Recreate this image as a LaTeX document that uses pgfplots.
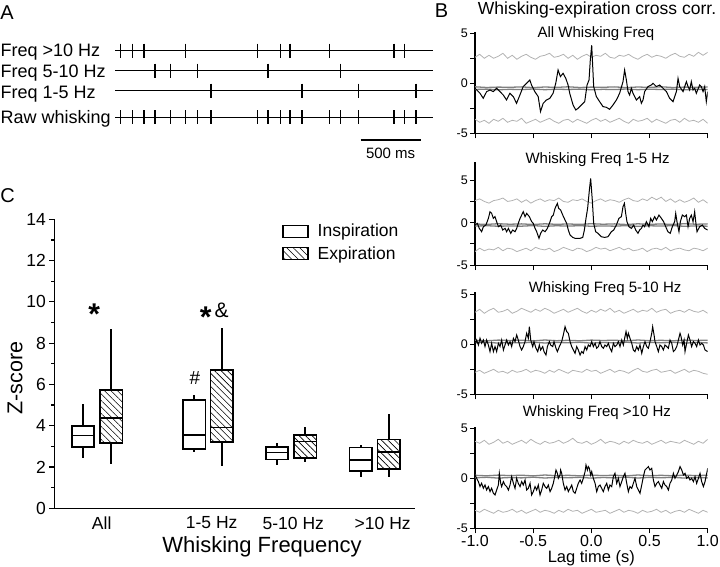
\documentclass[border=0pt]{standalone}
\usepackage{fontspec}
\setmainfont{Liberation Sans}
\usepackage{pgfplots}
\usepackage{pgfplotstable}
\pgfplotsset{compat=1.18}
\usetikzlibrary{patterns.meta}
\newcommand{\fs}[2]{\fontsize{#1}{#2}\selectfont}

\pgfplotstableread{
x u1 l1 u2 l2 u3 l3 u4 l4
-1.00 2.6 -3.6 2.6 -3.4 3.2 -2.8 3.7 -3.2
-0.96 2.9 -3.9 2.8 -3.0 3.5 -2.6 3.5 -3.4
-0.92 2.5 -3.7 2.5 -3.3 3.1 -2.9 3.8 -3.1
-0.88 2.8 -4.0 2.3 -3.1 3.4 -2.7 3.4 -3.3
-0.84 2.5 -3.6 2.6 -3.2 3.6 -2.5 3.6 -3.5
-0.80 2.7 -3.8 2.7 -2.9 3.2 -2.8 3.9 -3.2
-0.76 3.0 -3.5 2.9 -3.3 3.3 -2.7 3.5 -3.4
-0.72 2.5 -3.9 2.5 -3.0 3.5 -2.9 3.7 -3.3
-0.68 2.8 -3.7 2.6 -3.1 3.1 -2.6 3.4 -3.1
-0.64 2.4 -3.8 2.8 -3.4 3.3 -2.8 3.6 -3.4
-0.60 2.7 -3.5 2.4 -3.2 3.6 -2.7 3.8 -3.2
-0.56 2.9 -4.0 2.7 -3.0 3.4 -2.5 3.5 -3.5
-0.52 2.6 -3.8 2.3 -3.3 3.2 -2.8 3.9 -3.3
-0.48 2.4 -3.6 2.6 -2.9 3.5 -2.6 3.6 -3.1
-0.44 2.7 -3.9 2.8 -3.1 3.3 -2.7 3.4 -3.4
-0.40 2.8 -3.7 2.5 -3.2 3.6 -2.9 3.7 -3.2
-0.36 3.0 -3.5 2.7 -3.0 3.4 -2.6 3.5 -3.3
-0.32 2.6 -3.8 2.6 -3.4 3.1 -2.8 3.6 -3.5
-0.28 2.7 -4.0 2.9 -3.2 3.3 -2.5 3.8 -3.2
-0.24 2.9 -3.7 2.5 -2.9 3.5 -2.7 3.5 -3.4
-0.20 2.5 -3.6 2.4 -3.1 3.2 -2.9 3.7 -3.1
-0.16 2.8 -3.9 2.7 -3.3 3.4 -2.6 4.0 -3.3
-0.12 2.4 -3.6 2.6 -3.0 3.6 -2.7 3.6 -3.2
-0.08 2.7 -3.8 2.8 -3.1 3.3 -2.8 3.5 -3.5
-0.04 2.9 -4.0 2.5 -3.4 3.1 -2.5 3.7 -3.3
0.00 2.6 -3.7 2.3 -3.2 3.4 -2.7 3.4 -3.1
0.04 2.8 -3.5 2.6 -2.9 3.2 -2.6 3.6 -3.4
0.08 2.7 -3.8 2.8 -3.1 3.5 -2.9 3.9 -3.3
0.12 3.0 -3.6 2.5 -3.0 3.3 -2.7 3.5 -3.2
0.16 2.6 -3.9 2.7 -3.3 3.6 -2.5 3.7 -3.5
0.20 2.5 -3.7 2.6 -3.1 3.2 -2.8 3.6 -3.3
0.24 2.8 -3.5 2.4 -2.9 3.4 -2.6 3.4 -3.1
0.28 2.7 -3.8 2.7 -3.2 3.1 -2.7 3.7 -3.4
0.32 2.9 -4.0 2.9 -3.0 3.3 -2.9 3.5 -3.2
0.36 2.6 -3.6 2.6 -3.3 3.5 -2.6 3.8 -3.3
0.40 2.4 -3.8 2.5 -3.2 3.2 -2.4 3.6 -3.5
0.44 2.7 -3.7 2.8 -3.0 3.4 -2.7 3.5 -3.2
0.48 2.9 -3.5 2.6 -3.4 3.3 -2.8 3.7 -3.4
0.52 2.6 -3.9 3.0 -3.1 3.6 -2.6 3.4 -3.3
0.56 2.8 -3.6 2.7 -3.0 3.2 -2.5 3.6 -3.1
0.60 2.7 -3.8 3.0 -3.2 3.4 -2.8 3.8 -3.4
0.64 2.5 -4.0 2.5 -2.9 3.5 -2.7 3.5 -3.2
0.68 2.8 -3.7 2.8 -3.3 3.1 -2.6 3.7 -3.5
0.72 3.0 -3.6 2.4 -3.1 3.3 -2.9 3.6 -3.3
0.76 2.7 -3.9 2.7 -3.0 3.4 -2.7 3.5 -3.2
0.80 2.6 -3.5 2.4 -3.2 3.2 -2.5 3.8 -3.4
0.84 2.9 -3.8 2.6 -3.3 3.5 -2.8 3.6 -3.1
0.88 2.7 -3.7 2.9 -3.0 3.3 -2.6 3.4 -3.3
0.92 3.1 -3.9 2.4 -3.1 3.2 -2.7 3.7 -3.5
0.96 2.8 -3.6 2.7 -3.3 3.4 -2.9 3.5 -3.2
1.00 3.1 -4.0 2.3 -3.0 3.1 -3.0 3.9 -3.4
}\bands

\pgfplotstableread{
x a1 b1 a2 b2 a3 b3 a4 b4
-1.0 -0.35 -0.62 -0.15 -0.40 0.40 0.15 0.30 0.05
-0.9 -0.42 -0.58 -0.20 -0.35 0.35 0.20 0.25 0.10
-0.8 -0.38 -0.65 -0.12 -0.42 0.42 0.12 0.32 0.02
-0.7 -0.40 -0.60 -0.18 -0.38 0.38 0.18 0.27 0.08
-0.6 -0.36 -0.63 -0.14 -0.41 0.41 0.14 0.31 0.04
-0.5 -0.43 -0.57 -0.21 -0.34 0.34 0.21 0.24 0.11
-0.4 -0.37 -0.64 -0.13 -0.43 0.43 0.13 0.33 0.03
-0.3 -0.41 -0.59 -0.19 -0.36 0.36 0.19 0.26 0.09
-0.2 -0.35 -0.62 -0.15 -0.40 0.40 0.15 0.30 0.05
-0.1 -0.42 -0.58 -0.20 -0.35 0.35 0.20 0.25 0.10
0.0 -0.38 -0.65 -0.12 -0.42 0.42 0.12 0.32 0.02
0.1 -0.40 -0.60 -0.18 -0.38 0.38 0.18 0.27 0.08
0.2 -0.36 -0.63 -0.14 -0.41 0.41 0.14 0.31 0.04
0.3 -0.43 -0.57 -0.21 -0.34 0.34 0.21 0.24 0.11
0.4 -0.37 -0.64 -0.13 -0.43 0.43 0.13 0.33 0.03
0.5 -0.41 -0.59 -0.19 -0.36 0.36 0.19 0.26 0.09
0.6 -0.35 -0.62 -0.15 -0.40 0.40 0.15 0.30 0.05
0.7 -0.42 -0.58 -0.20 -0.35 0.35 0.20 0.25 0.10
0.8 -0.38 -0.65 -0.12 -0.42 0.42 0.12 0.32 0.02
0.9 -0.40 -0.60 -0.18 -0.38 0.38 0.18 0.27 0.08
1.0 -0.36 -0.63 -0.14 -0.41 0.41 0.14 0.31 0.04
}\centers

\pgfplotsset{
 bax/.style={scale only axis, width=232.7pt, xmin=-1, xmax=1,
  axis x line*=bottom, axis y line*=left,
  axis line style={line width=1.2pt,-},
  xtick={-1,-0.5,0,0.5,1}, xticklabels={},
  ytick={-5,0,5}, yticklabels={-5,0,5}, minor ytick={-2.5,2.5},
  tick align=outside, major tick length=5pt, minor tick length=5pt,
  tick style={black, line width=1pt},
  yticklabel style={font=\fs{12.5}{14}, inner sep=0pt, xshift=-2pt},
  title style={font=\fs{15}{18}, anchor=center, yshift=-6pt},
 },
 ub/.style={black!30, line width=0.8pt},
 cb/.style={black!50, line width=1.3pt},
 bl/.style={black, line width=1pt},
 bxo/.style={black, line width=1.7pt, line join=miter},
 bxh/.style={black, line width=1.7pt, line join=miter, pattern={Lines[angle=-45,distance=4.6pt,line width=0.6pt]}, pattern color=black},
 bxl/.style={black, line width=1.7pt, unbounded coords=jump},
}

\begin{document}
\begin{tikzpicture}
\path[use as bounding box] (0pt,0pt) rectangle (720pt,566pt);

\node[font=\fs{20}{24}] at (7pt,553.5pt) {A};
\node[font=\fs{20}{24}] at (441.5pt,555pt) {B};
\node[font=\fs{20}{24}] at (7.5pt,370.5pt) {C};
\node[font=\fs{17.5}{21}, anchor=base] at (597pt,551pt) {Whisking-expiration cross corr.};

% ---------- Panel A ----------
\begin{axis}[at={(115pt,406pt)}, anchor=south west, scale only axis,
  width=318pt, height=160pt, xmin=0, xmax=2650, ymin=-160, ymax=0,
  hide axis, clip=false]
\addplot[black, line width=1.3pt] coordinates {(0,-50.7)(2650,-50.7)};
\addplot[black, line width=1.3pt] coordinates {(0,-70.7)(2650,-70.7)};
\addplot[black, line width=1.3pt] coordinates {(0,-90.7)(2650,-90.7)};
\addplot[black, line width=1.3pt] coordinates {(0,-117.3)(2650,-117.3)};
\addplot[only marks, mark=|, mark size=7pt, mark options={black, line width=1.1pt}] coordinates {
(47.5,-50.7)(147.5,-50.7)(241.7,-50.7)(585.8,-50.7)(1189,-50.7)(1381,-50.7)(1458,-50.7)(1786,-50.7)(2325,-50.7)(2414,-50.7)};
\addplot[only marks, mark=|, mark size=7pt, mark options={black, line width=1.1pt}] coordinates {
(333,-70.7)(461,-70.7)(689,-70.7)(1275,-70.7)(1877,-70.7)};
\addplot[only marks, mark=|, mark size=7pt, mark options={black, line width=1.1pt}] coordinates {
(800,-90.7)(1558,-90.7)(2031,-90.7)(2508,-90.7)};
\addplot[only marks, mark=|, mark size=7pt, mark options={black, line width=1.1pt}] coordinates {
(47.5,-117.3)(147.5,-117.3)(241.7,-117.3)(333,-117.3)(461,-117.3)(585.8,-117.3)(689,-117.3)(800,-117.3)(1189,-117.3)(1275,-117.3)(1381,-117.3)(1458,-117.3)(1558,-117.3)(1786,-117.3)(1877,-117.3)(2031,-117.3)(2325,-117.3)(2414,-117.3)(2508,-117.3)};
\addplot[black, line width=1.5pt] coordinates {(2047.5,-140)(2547.5,-140)};
\node[font=\fs{15}{18}, anchor=base] at (axis cs:2297,-158) {500 ms};
\node[font=\fs{18}{21}, anchor=base west, inner sep=0pt] at (axis cs:-954,-56.7) {Freq >10 Hz};
\node[font=\fs{18}{21}, anchor=base west, inner sep=0pt] at (axis cs:-954,-77.3) {Freq 5-10 Hz};
\node[font=\fs{18}{21}, anchor=base west, inner sep=0pt] at (axis cs:-954,-98.3) {Freq 1-5 Hz};
\node[font=\fs{18}{21}, anchor=base west, inner sep=0pt] at (axis cs:-954,-123.3) {Raw whisking};
\end{axis}

% ---------- Panel B, plot 1 ----------
\begin{axis}[bax, at={(475pt,432.7pt)}, anchor=south west, height=101.6pt,
  ymin=-5, ymax=5.16, title={All Whisking Freq}, title style={at={(0.52,0.984)}}]
\addplot[ub] table[x=x,y=u1]{\bands};
\addplot[ub] table[x=x,y=l1]{\bands};
\addplot[cb] table[x=x,y=a1]{\centers};
\addplot[cb] table[x=x,y=b1]{\centers};
\addplot[bl] coordinates {(-1.000,-0.50)(-0.957,-1.00)(-0.929,-1.50)(-0.900,-0.83)(-0.871,-0.67)(-0.843,-0.83)(-0.814,-0.50)(-0.786,-0.83)(-0.757,-1.17)(-0.729,-1.67)(-0.700,-1.00)(-0.671,-1.33)(-0.643,-2.00)(-0.614,-1.17)(-0.586,-0.33)(-0.557,0.00)(-0.529,0.33)(-0.514,-0.17)(-0.486,-0.83)(-0.457,-1.33)(-0.437,-2.83)(-0.414,-2.00)(-0.386,-1.67)(-0.357,-1.50)(-0.329,-1.00)(-0.306,0.00)(-0.286,1.33)(-0.266,0.67)(-0.243,1.00)(-0.220,0.50)(-0.200,-0.17)(-0.186,-1.00)(-0.157,-2.17)(-0.134,-2.67)(-0.114,-2.50)(-0.086,-2.17)(-0.057,-1.83)(-0.037,-0.17)(-0.020,0.33)(-0.009,2.33)(0.003,3.80)(0.020,-0.33)(0.043,-1.33)(0.071,-1.83)(0.100,-2.33)(0.129,-2.40)(0.157,-2.60)(0.186,-2.17)(0.215,-1.67)(0.243,-1.00)(0.272,0.17)(0.286,1.33)(0.301,0.33)(0.315,-0.83)(0.329,-1.17)(0.344,-0.50)(0.358,-1.00)(0.387,-1.67)(0.415,-1.33)(0.430,-2.00)(0.444,-1.67)(0.458,-0.83)(0.487,-0.33)(0.516,-0.17)(0.530,0.00)(0.559,-0.33)(0.587,-0.17)(0.616,-0.50)(0.645,-0.83)(0.673,-1.50)(0.702,-1.83)(0.731,-0.83)(0.745,0.50)(0.759,-0.33)(0.788,-0.83)(0.817,0.17)(0.831,-0.33)(0.845,-0.67)(0.859,0.17)(0.874,-0.67)(0.888,-0.50)(0.902,-1.00)(0.931,-0.17)(0.945,-0.33)(0.960,-0.83)(0.974,-0.33)(0.988,-1.83)(1.000,-0.83)};
\end{axis}

% ---------- Panel B, plot 2 ----------
\begin{axis}[bax, at={(475pt,300.8pt)}, anchor=south west, height=103.2pt,
  ymin=-5, ymax=7.14, title={Whisking Freq 1-5 Hz}, title style={at={(0.527,1.02)}}]
\addplot[ub] table[x=x,y=u2]{\bands};
\addplot[ub] table[x=x,y=l2]{\bands};
\addplot[cb] table[x=x,y=a2]{\centers};
\addplot[cb] table[x=x,y=b2]{\centers};
\addplot[bl] coordinates {(-1.000,-0.27)(-0.980,-0.08)(-0.963,-0.67)(-0.943,-1.06)(-0.928,-0.47)(-0.906,-0.27)(-0.885,0.51)(-0.871,1.29)(-0.857,1.10)(-0.842,0.51)(-0.828,0.71)(-0.814,0.12)(-0.799,-0.47)(-0.779,-0.27)(-0.762,-0.86)(-0.742,-0.67)(-0.728,-1.06)(-0.713,-0.67)(-0.693,-1.25)(-0.676,-0.86)(-0.656,-1.06)(-0.642,-0.67)(-0.628,-0.08)(-0.613,0.51)(-0.599,0.90)(-0.585,1.29)(-0.570,0.71)(-0.556,1.10)(-0.533,0.71)(-0.513,0.12)(-0.499,-0.08)(-0.484,-0.67)(-0.470,-1.06)(-0.450,-1.84)(-0.436,-1.25)(-0.418,-0.86)(-0.398,-1.06)(-0.378,-0.67)(-0.355,0.12)(-0.341,0.71)(-0.327,0.90)(-0.312,1.69)(-0.292,2.27)(-0.281,1.69)(-0.264,1.49)(-0.246,0.90)(-0.226,0.31)(-0.212,-0.08)(-0.198,-0.86)(-0.183,-1.45)(-0.160,-1.73)(-0.140,-1.84)(-0.120,-1.84)(-0.097,-1.84)(-0.074,-1.73)(-0.060,-0.86)(-0.046,0.51)(-0.032,1.69)(-0.017,3.84)(-0.006,5.22)(0.008,2.67)(0.020,-0.08)(0.037,-1.06)(0.057,-1.25)(0.086,-1.65)(0.114,-1.73)(0.143,-1.65)(0.172,-1.06)(0.192,-0.86)(0.215,-0.27)(0.237,0.51)(0.258,0.71)(0.272,1.88)(0.284,2.27)(0.295,1.10)(0.306,0.12)(0.323,-0.47)(0.344,-0.67)(0.364,-0.27)(0.381,-0.86)(0.401,-1.25)(0.415,-0.86)(0.430,-0.67)(0.444,-0.27)(0.458,-0.47)(0.473,0.12)(0.495,-0.47)(0.510,0.51)(0.524,0.12)(0.544,0.71)(0.559,0.31)(0.581,0.90)(0.602,0.51)(0.621,0.12)(0.639,-0.47)(0.658,-1.06)(0.678,-1.25)(0.696,-0.47)(0.716,0.12)(0.725,1.10)(0.736,0.12)(0.753,-1.06)(0.765,0.12)(0.782,0.90)(0.802,0.71)(0.817,0.90)(0.831,-0.47)(0.845,0.51)(0.859,0.90)(0.874,0.12)(0.888,1.29)(0.897,0.12)(0.908,-1.06)(0.931,-0.47)(0.954,-0.27)(0.974,-0.67)(1.000,-0.86)};
\end{axis}

% ---------- Panel B, plot 3 ----------
\begin{axis}[bax, at={(475pt,171.7pt)}, anchor=south west, height=102.3pt,
  ymin=-5, ymax=5.23, title={Whisking Freq 5-10 Hz}, title style={at={(0.559,1.03)}}]
\addplot[ub] table[x=x,y=u3]{\bands};
\addplot[ub] table[x=x,y=l3]{\bands};
\addplot[cb] table[x=x,y=a3]{\centers};
\addplot[cb] table[x=x,y=b3]{\centers};
\addplot[bl] coordinates {(-1.000,-0.07)(-0.986,0.43)(-0.971,-0.07)(-0.957,0.60)(-0.943,0.10)(-0.928,0.43)(-0.914,-0.23)(-0.900,0.43)(-0.885,-0.07)(-0.871,-0.73)(-0.857,0.10)(-0.842,-0.73)(-0.828,-0.23)(-0.814,-0.73)(-0.799,0.10)(-0.785,-0.23)(-0.771,0.43)(-0.756,-0.57)(-0.742,-0.07)(-0.728,0.43)(-0.713,-0.07)(-0.699,0.27)(-0.685,-0.23)(-0.670,0.60)(-0.656,0.27)(-0.642,0.93)(-0.628,0.43)(-0.613,-0.23)(-0.599,-0.57)(-0.585,-0.23)(-0.570,0.27)(-0.556,1.10)(-0.542,0.60)(-0.533,1.77)(-0.521,0.43)(-0.504,-0.23)(-0.493,0.27)(-0.476,-0.40)(-0.461,-0.73)(-0.447,-0.07)(-0.436,-0.57)(-0.418,-0.23)(-0.407,-0.73)(-0.390,-1.07)(-0.378,-0.23)(-0.361,0.27)(-0.350,-0.07)(-0.332,-0.23)(-0.321,0.27)(-0.304,-0.40)(-0.292,-0.73)(-0.275,-0.23)(-0.255,0.27)(-0.241,0.93)(-0.226,1.77)(-0.212,1.27)(-0.198,1.10)(-0.183,0.27)(-0.169,-0.23)(-0.155,-0.57)(-0.140,-0.90)(-0.126,-0.23)(-0.112,-0.57)(-0.097,-1.07)(-0.083,-0.73)(-0.069,-0.90)(-0.054,-0.23)(-0.040,-0.57)(-0.026,-0.07)(-0.011,-0.23)(0.003,0.27)(0.017,-0.23)(0.032,0.10)(0.046,-0.40)(0.060,-0.23)(0.074,0.27)(0.089,-0.23)(0.103,-0.40)(0.117,-0.07)(0.132,-0.23)(0.146,0.10)(0.160,-0.40)(0.175,-0.73)(0.189,0.10)(0.203,-0.23)(0.218,-0.07)(0.232,0.27)(0.246,-0.23)(0.261,0.43)(0.275,-0.07)(0.289,0.77)(0.298,1.27)(0.309,0.60)(0.318,1.10)(0.332,0.60)(0.347,0.10)(0.361,-0.57)(0.375,-0.73)(0.390,-0.23)(0.404,-0.57)(0.418,-0.07)(0.433,-0.90)(0.447,-0.23)(0.461,0.27)(0.476,-0.23)(0.490,-0.40)(0.504,0.27)(0.519,1.10)(0.527,1.77)(0.539,0.93)(0.547,0.27)(0.562,-0.23)(0.576,-0.73)(0.590,-0.07)(0.605,-0.23)(0.619,-0.57)(0.633,-0.07)(0.648,-0.23)(0.662,-0.40)(0.676,0.43)(0.691,0.10)(0.705,-0.73)(0.719,-0.57)(0.734,-0.23)(0.748,0.43)(0.762,1.10)(0.771,0.77)(0.785,-0.07)(0.797,0.43)(0.805,-0.73)(0.819,0.10)(0.834,0.93)(0.848,0.43)(0.862,-0.23)(0.877,0.27)(0.891,0.10)(0.905,-0.23)(0.920,0.43)(0.934,-0.07)(0.948,0.10)(0.963,-0.07)(0.977,-0.57)(1.000,-0.73)};
\end{axis}

% ---------- Panel B, plot 4 ----------
\begin{axis}[bax, at={(475pt,37.7pt)}, anchor=south west, height=101.6pt,
  ymin=-5, ymax=5.16, title={Whisking Freq >10 Hz}, title style={at={(0.524,1.14)}},
  xticklabels={-1.0,-0.5,0.0,0.5,1.0}, xticklabel style={font=\fs{16}{19}, inner sep=0pt, yshift=-2pt},
  xlabel={Lag time (s)}, xlabel style={at={(axis description cs:0.5,-0.29)}, anchor=center, font=\fs{16.5}{20}}]
\addplot[ub] table[x=x,y=u4]{\bands};
\addplot[ub] table[x=x,y=l4]{\bands};
\addplot[cb] table[x=x,y=a4]{\centers};
\addplot[cb] table[x=x,y=b4]{\centers};
\addplot[bl] coordinates {(-1.000,0.33)(-0.986,0.00)(-0.971,-0.33)(-0.957,-0.83)(-0.943,-0.50)(-0.928,-1.00)(-0.914,-0.67)(-0.900,-1.17)(-0.885,-0.83)(-0.871,-1.33)(-0.857,-1.00)(-0.842,-1.50)(-0.828,-1.67)(-0.814,-1.17)(-0.799,-0.67)(-0.791,0.50)(-0.779,-0.50)(-0.771,-0.83)(-0.756,-0.33)(-0.742,-0.67)(-0.728,-0.83)(-0.713,-1.17)(-0.699,-0.67)(-0.685,0.17)(-0.670,-0.50)(-0.656,-1.00)(-0.642,0.00)(-0.628,-0.50)(-0.613,-0.83)(-0.599,-0.33)(-0.585,-0.67)(-0.570,-0.17)(-0.556,-1.17)(-0.542,-1.00)(-0.527,-0.50)(-0.513,-1.67)(-0.499,-1.33)(-0.484,-0.83)(-0.470,-1.17)(-0.456,-0.67)(-0.441,-1.67)(-0.427,-1.17)(-0.413,-0.50)(-0.398,-0.83)(-0.384,-1.00)(-0.370,-0.67)(-0.355,-1.33)(-0.341,-1.00)(-0.327,-0.50)(-0.312,0.33)(-0.304,0.83)(-0.292,0.50)(-0.284,0.00)(-0.269,0.33)(-0.264,0.83)(-0.255,0.50)(-0.241,-0.50)(-0.226,-1.17)(-0.212,-0.83)(-0.198,-1.33)(-0.183,-1.00)(-0.169,-0.67)(-0.155,-1.33)(-0.140,-1.50)(-0.126,-1.00)(-0.112,-0.50)(-0.097,-0.17)(-0.083,-0.50)(-0.069,0.00)(-0.054,0.67)(-0.046,1.33)(-0.034,0.83)(-0.026,1.17)(-0.017,1.00)(-0.006,0.33)(0.003,0.67)(0.017,0.00)(0.032,-0.50)(0.046,-1.33)(0.060,-0.83)(0.074,-0.67)(0.089,-1.00)(0.103,-1.33)(0.117,-0.83)(0.132,-0.50)(0.146,-1.17)(0.160,-0.67)(0.175,-0.83)(0.189,0.17)(0.203,0.50)(0.218,-0.50)(0.232,0.00)(0.246,-0.83)(0.261,-0.33)(0.275,0.17)(0.289,0.50)(0.304,-0.50)(0.318,-1.33)(0.332,-0.83)(0.347,-1.00)(0.361,-0.50)(0.375,0.00)(0.390,-0.83)(0.404,-1.17)(0.418,-1.50)(0.433,-0.67)(0.447,0.17)(0.461,0.83)(0.476,1.00)(0.490,1.17)(0.504,0.83)(0.519,1.00)(0.533,-0.17)(0.547,-0.83)(0.562,-0.50)(0.576,-0.33)(0.590,-0.67)(0.605,-1.00)(0.619,-0.33)(0.633,-0.67)(0.648,-0.83)(0.662,-1.17)(0.676,-0.50)(0.691,-0.17)(0.705,0.50)(0.719,0.00)(0.734,0.33)(0.748,0.67)(0.762,1.17)(0.777,0.83)(0.791,0.33)(0.805,0.50)(0.819,0.00)(0.834,0.17)(0.848,-0.17)(0.862,0.00)(0.877,-0.33)(0.891,0.17)(0.905,-0.50)(0.920,0.00)(0.934,0.50)(0.948,-0.33)(0.963,-0.83)(0.977,-0.33)(1.000,1.00)};
\end{axis}

% ---------- Panel C ----------
\begin{axis}[at={(54.3pt,57.7pt)}, anchor=south west, scale only axis,
  width=360.7pt, height=289pt, xmin=54.3, xmax=415, ymin=0, ymax=14,
  axis x line*=bottom, axis y line*=left, axis line style={line width=1.4pt,-},
  xtick={101.7,211.7,293.3,382.7}, xticklabels={All,1-5 Hz,5-10 Hz,>10 Hz},
  xtick style={draw=none},
  ytick={0,2,...,14}, minor ytick={1,3,...,13},
  tick align=outside, major tick length=5pt, minor tick length=3pt,
  tick style={black, line width=1.2pt},
  /pgf/number format/assume math mode=true,
  ticklabel style={font=\fs{17.5}{21}},
  ylabel={Z-score}, ylabel style={at={(axis description cs:-0.109,0.45)}, anchor=center, font=\fs{21.5}{25}},
  xlabel={Whisking Frequency}, xlabel style={at={(axis description cs:0.576,-0.133)}, anchor=center, font=\fs{22}{26}},
  legend style={at={(axis cs:282,13.87)}, anchor=north west, draw=none, fill=none,
     font=\fs{17.5}{21}, row sep=4pt, inner sep=0pt,
     /tikz/every odd column/.append style={column sep=7pt}},
  legend cell align=left,
  clip=false]
\addlegendimage{legend image code/.code={\draw[black, line width=1.5pt] (0pt,-6pt) rectangle (25pt,6pt);}}
\addlegendentry{Inspiration}
\addlegendimage{legend image code/.code={\draw[black, line width=1.5pt, pattern={Lines[angle=-45,distance=4.6pt,line width=0.6pt]}, pattern color=black] (0pt,-6pt) rectangle (25pt,6pt);}}
\addlegendentry{Expiration}

% All: inspiration / expiration
\addplot[bxo, forget plot] coordinates {(71.7,2.98)(94.3,2.98)(94.3,4.00)(71.7,4.00)} -- cycle;
\addplot[bxl, forget plot] coordinates {(83,4.00)(83,5.04)(83,nan)(83,2.98)(83,2.42)(83,nan)(71.7,3.52)(94.3,3.52)};
\addplot[bxh, forget plot] coordinates {(99.8,3.15)(122.4,3.15)(122.4,5.73)(99.8,5.73)} -- cycle;
\addplot[bxl, forget plot] coordinates {(111.1,5.73)(111.1,8.69)(111.1,nan)(111.1,3.15)(111.1,2.15)(111.1,nan)(99.8,4.36)(122.4,4.36)};
% 1-5 Hz
\addplot[bxo, forget plot] coordinates {(182.9,2.87)(205.5,2.87)(205.5,5.25)(182.9,5.25)} -- cycle;
\addplot[bxl, forget plot] coordinates {(194.2,5.25)(194.2,5.49)(194.2,nan)(194.2,2.87)(194.2,2.74)(194.2,nan)(182.9,3.55)(205.5,3.55)};
\addplot[bxh, forget plot] coordinates {(210.5,3.20)(233.1,3.20)(233.1,6.70)(210.5,6.70)} -- cycle;
\addplot[bxl, forget plot] coordinates {(221.8,6.70)(221.8,8.72)(221.8,nan)(221.8,3.20)(221.8,2.07)(221.8,nan)(210.5,3.92)(233.1,3.92)};
% 5-10 Hz
\addplot[bxo, forget plot] coordinates {(265.7,2.37)(288.3,2.37)(288.3,2.98)(265.7,2.98)} -- cycle;
\addplot[bxl, forget plot] coordinates {(277,2.98)(277,3.18)(277,nan)(277,2.37)(277,2.10)(277,nan)(265.7,2.70)(288.3,2.70)};
\addplot[bxh, forget plot] coordinates {(294,2.42)(316.6,2.42)(316.6,3.55)(294,3.55)} -- cycle;
\addplot[bxl, forget plot] coordinates {(305.3,3.55)(305.3,3.92)(305.3,nan)(305.3,2.42)(305.3,2.23)(305.3,nan)(294,3.23)(316.6,3.23)};
% >10 Hz
\addplot[bxo, forget plot] coordinates {(349.5,1.82)(372.1,1.82)(372.1,2.95)(349.5,2.95)} -- cycle;
\addplot[bxl, forget plot] coordinates {(360.8,2.95)(360.8,3.07)(360.8,nan)(360.8,1.82)(360.8,1.53)(360.8,nan)(349.5,2.34)(372.1,2.34)};
\addplot[bxh, forget plot] coordinates {(377.5,1.90)(400.1,1.90)(400.1,3.34)(377.5,3.34)} -- cycle;
\addplot[bxl, forget plot] coordinates {(388.8,3.34)(388.8,4.55)(388.8,nan)(388.8,1.90)(388.8,1.50)(388.8,nan)(377.5,2.74)(400.1,2.74)};

\node[font=\bfseries\fs{30}{34}, anchor=north, inner sep=0pt] at (axis cs:94.2,9.93) {*};
\node[font=\bfseries\fs{30}{34}, anchor=north, inner sep=0pt] at (axis cs:205.8,9.77) {*};
\node[font=\fs{21}{24}, anchor=north west, inner sep=0pt] at (axis cs:214.5,9.95) {\&};
\node[font=\fs{19}{22}, anchor=north, inner sep=0pt] at (axis cs:195,6.66) {\#};
\end{axis}
\end{tikzpicture}
\end{document}
